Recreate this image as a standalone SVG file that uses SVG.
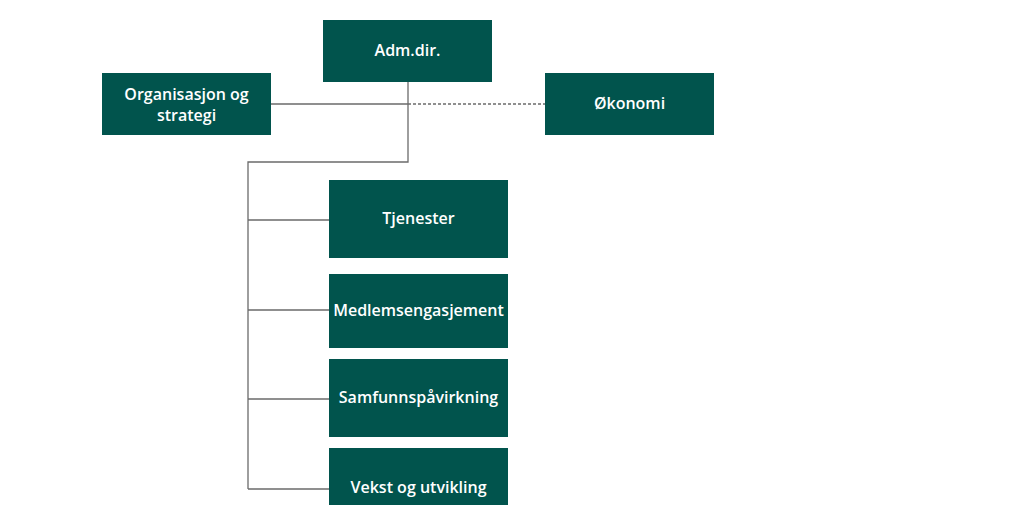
<svg xmlns="http://www.w3.org/2000/svg" width="1030" height="505" viewBox="0 0 1030 505">
<style>
.n{fill:#01544D}
.t{fill:#fff;font-family:"Open Sans","Liberation Sans",sans-serif;font-size:16px;font-weight:600;text-anchor:middle}
.c{stroke:#6b6b6b;stroke-width:1.3;fill:none}
</style>
<rect width="1030" height="505" fill="#fff"/>
<g id="connectors">
<path class="c" d="M271 104H408M408 82V162H248V489M248 220H329M248 310H329M248 399H329M248 489H329"/>
<path class="c" d="M408 104H545" stroke-dasharray="3 2"/>
</g>
<g id="adm"><rect class="n" x="323" y="20" width="169" height="62"/><text class="t" x="407.5" y="56">Adm.dir.</text></g>
<g id="org"><rect class="n" x="102" y="73" width="169" height="62"/><text class="t" x="186.5" y="100">Organisasjon og</text><text class="t" x="186.5" y="121">strategi</text></g>
<g id="okonomi"><rect class="n" x="545" y="73" width="169" height="62"/><text class="t" x="629.5" y="109">Økonomi</text></g>
<g id="tjenester"><rect class="n" x="329" y="180" width="179" height="78"/><text class="t" x="418.5" y="224">Tjenester</text></g>
<g id="medlem"><rect class="n" x="329" y="274" width="179" height="74"/><text class="t" x="418.5" y="316">Medlemsengasjement</text></g>
<g id="samfunn"><rect class="n" x="329" y="359" width="179" height="78"/><text class="t" x="418.5" y="403">Samfunnspåvirkning</text></g>
<g id="vekst"><rect class="n" x="329" y="448" width="179" height="60"/><text class="t" x="418.5" y="493">Vekst og utvikling</text></g>
</svg>
